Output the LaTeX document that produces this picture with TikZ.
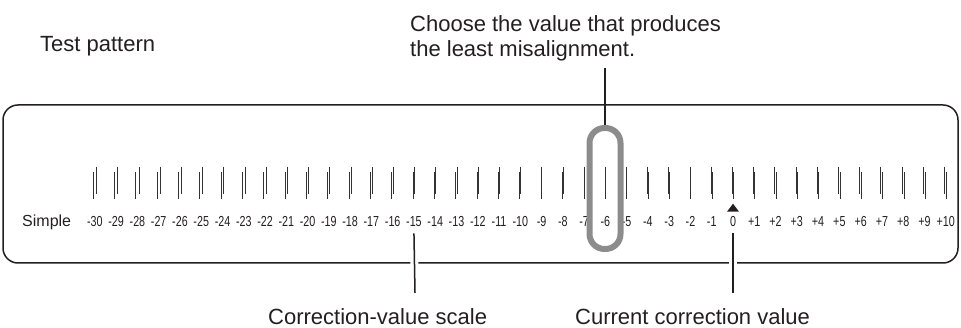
\documentclass[tikz,border=0pt]{standalone}
\usepackage{fontspec}
\setmainfont{Liberation Sans}
\newfontfamily\narrowfont[FakeStretch=0.74]{Liberation Sans}
\usetikzlibrary{calc,positioning}
\definecolor{inkgray}{RGB}{35,31,32}
\definecolor{markgray}{RGB}{140,140,140}

\begin{document}
\begin{tikzpicture}[x=1pt, y=-1pt,
    every node/.style={inner sep=0pt, text=inkgray},
    caption/.style={font=\fontsize{22}{25}\selectfont, anchor=base west, align=left},
    valuelabel/.style={font=\narrowfont\fontsize{14.5}{14.5}\selectfont, anchor=base},
    leader/.style={line width=1.5pt, inkgray},
    halo/.style={line width=8pt, white}]
  \useasboundingbox (0,0) rectangle (961,328);
  % frame of the test pattern
  \draw[line width=1.5pt, inkgray, rounded corners=15pt] (3,105) rectangle (958,263);
  \node[caption] (title) at (40,52) {Test pattern};
  \node[font=\fontsize{16}{16}\selectfont, anchor=base west] (simple) at (22,227) {Simple};
  % line pairs and their values
  \foreach \v in {-30,...,10} {
    \pgfmathsetmacro{\xv}{733+21.27*\v}
    \pgfmathsetmacro{\dv}{-0.155*(\v+6)/2}
    \draw[line width=1pt, black!80] (\xv-\dv,172) -- (\xv-\dv,199);
    \draw[line width=1pt, black!80] (\xv+\dv,167) -- (\xv+\dv,194);
    \node[valuelabel] (v\v) at (\xv,227) {\ifnum\v>0 +\fi\v};
  }
  % current value mark
  \fill[inkgray] ($(v0.north)+(-6,-5)$) -- ++(12,0) -- ++(-6,-8) -- cycle;
  % chosen value
  \node[draw=markgray, line width=6pt, rounded corners=15pt,
    minimum width=31pt, minimum height=121pt] (pick) at (605,188.5) {};
  \node[caption] (choose) at (410,57) {Choose the value that produces\\the least misalignment.};
  \coordinate (choosept) at (605,68);
  \draw[leader] (pick.north) -- (choosept);
  % bottom callouts
  \node[caption] (scale) at (268,325) {Correction-value scale};
  \node[caption] (current) at (575,325) {Current correction value};
  \coordinate (scalept) at (415,293);
  \coordinate (currentpt) at (733,293);
  \draw[halo] ($(v-15.south)+(0,6)$) -- (scalept);
  \draw[halo] ($(v0.south)+(0,6)$) -- (currentpt);
  \draw[leader] ($(v-15.south)+(0,6)$) -- (scalept);
  \draw[leader] ($(v0.south)+(0,6)$) -- (currentpt);
\end{tikzpicture}
\end{document}
